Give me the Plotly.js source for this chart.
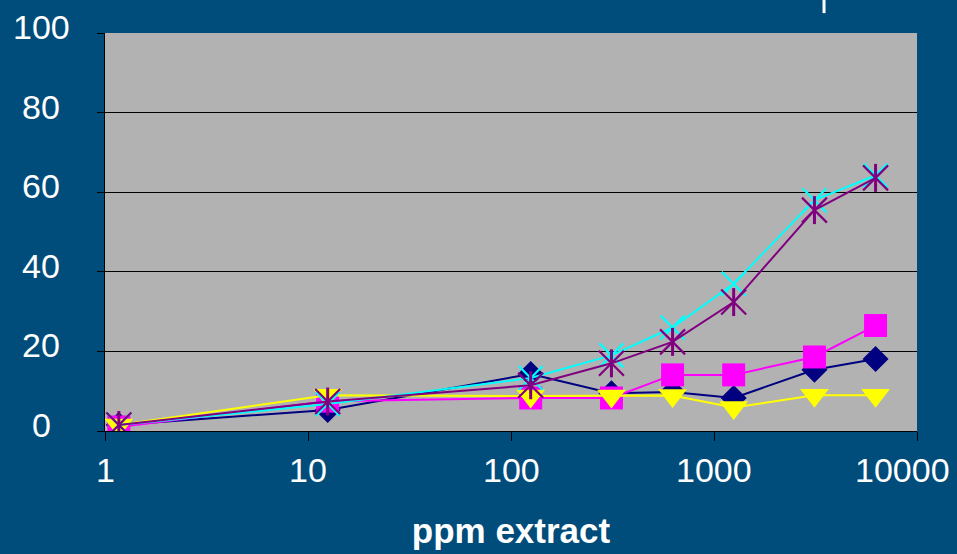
<!DOCTYPE html>
<html>
<head>
<meta charset="utf-8">
<script src="https://cdn.plot.ly/plotly-3.0.1.min.js"></script>
<style>
  html, body { margin: 0; padding: 0; background: #004C7A; }
  #chart { width: 957px; height: 554px; }
</style>
</head>
<body>
<div id="chart"></div>
<script>
// ---- data ----
const ppm = [1.17, 12.5, 125, 312.5, 625, 1250, 3125, 6250];
const seriesNavy    = [1.5, 5.3, 14.3, 9.5, 9.8, 8.3, 15.4, 18.1];
const seriesMagenta = [1.0, 7.5, 8.3, 8.3, 14.1, 14.1, 18.6, 26.5];
const seriesYellow  = [1.5, 9.0, 8.8, 8.8, 8.9, 5.9, 9.0, 9.0];
const seriesCyan    = [1.5, 6.8, 13.3, 19.0, 26.0, 37.0, 58.0, 64.2];
const seriesPurple  = [1.5, 7.4, 11.5, 17.0, 22.4, 32.4, 55.5, 63.6];
const xTickVals = [1, 10, 100, 1000, 10000];
const xTickLabels = ['1', '10', '100', '1000', '10000'];
const yTickVals = [0, 20, 40, 60, 80, 100];
const yTickLabels = ['0', '20', '40', '60', '80', '100'];
const xTitle = 'ppm extract';

const FONT = 'Arial, "Liberation Sans", sans-serif';
const TICKFONT = { family: FONT, size: 34, color: '#FFFFFF' };

function lineTrace(y, color, symbol, size, open) {
  const t = {
    x: ppm, y: y, type: 'scatter', mode: 'lines+markers',
    line: { color: color, width: 2 },
    marker: { symbol: symbol, size: size, color: color },
    hoverinfo: 'skip', showlegend: false
  };
  if (open) t.marker.line = { color: color, width: 2.2 };
  else t.marker.line = { width: 0 };
  return t;
}

const traces = [
  lineTrace(seriesNavy, '#000080', 'diamond', 20, false),
  lineTrace(seriesMagenta, '#FF00FF', 'square', 23, false),
  lineTrace(seriesYellow, '#FFFF00', 'triangle-down', 25, false),
  lineTrace(seriesCyan, '#00FFFF', 'x-thin-open', 24, true),
  lineTrace(seriesPurple, '#800080', 'x-thin-open', 25, true),
  {
    x: ppm, y: seriesPurple, type: 'scatter', mode: 'markers',
    marker: { symbol: 'line-ns-open', size: 20, color: '#800080',
              line: { color: '#800080', width: 3 } },
    hoverinfo: 'skip', showlegend: false
  }
];

// y tick labels are centred (as in the original), so drawn as annotations
const annotations = yTickVals.map((v, i) => ({
  x: 0, xref: 'paper', y: v, yref: 'y',
  text: yTickLabels[i], showarrow: false,
  xanchor: 'center', yanchor: 'middle', xshift: -64, yshift: 6,
  font: TICKFONT
}));
// x tick labels, the last one kept inside the page
xTickVals.forEach((v, i) => {
  const last = i === xTickVals.length - 1;
  annotations.push({
    x: Math.log10(v), xref: 'x', y: 0, yref: 'paper',
    text: xTickLabels[i], showarrow: false,
    xanchor: last ? 'right' : 'center', yanchor: 'top',
    xshift: last ? 35 : 0, yshift: -18,
    font: TICKFONT
  });
});

const layout = {
  width: 957, height: 554,
  margin: { l: 105, r: 40, t: 33, b: 123 },
  paper_bgcolor: '#004C7A',
  plot_bgcolor: '#B2B2B2',
  font: { family: FONT, color: '#FFFFFF' },
  xaxis: {
    type: 'log', range: [0, 4],
    tickmode: 'array', tickvals: xTickVals, ticktext: xTickVals.map(() => ''),
    ticks: 'outside', ticklen: 9, tickwidth: 1, tickcolor: '#000000',
    showline: true, linecolor: '#000000', linewidth: 1,
    showgrid: false, zeroline: false,
    tickfont: TICKFONT,
    title: { text: '<b>' + xTitle + '</b>', font: { family: FONT, size: 35, color: '#FFFFFF' } }
  },
  yaxis: {
    range: [0, 100],
    tickmode: 'array', tickvals: yTickVals, ticktext: yTickVals.map(() => ''),
    ticks: 'outside', ticklen: 7, tickwidth: 1, tickcolor: '#000000',
    showline: true, linecolor: '#000000', linewidth: 1,
    showgrid: true, gridcolor: '#000000', gridwidth: 1,
    zeroline: false
  },
  annotations: annotations,
  shapes: [{
    type: 'line', xref: 'paper', yref: 'paper',
    x0: 0.8855, x1: 0.8855, y0: 1.05, y1: 1.09,
    line: { color: '#FFFFFF', width: 3 }
  }]
};

Plotly.newPlot('chart', traces, layout, { displayModeBar: false, staticPlot: true }).then(() => {
  // place the axis title as in the original
  const t = document.querySelector('.xtitle');
  if (t) t.setAttribute('y', 543);
});
</script>
</body>
</html>
